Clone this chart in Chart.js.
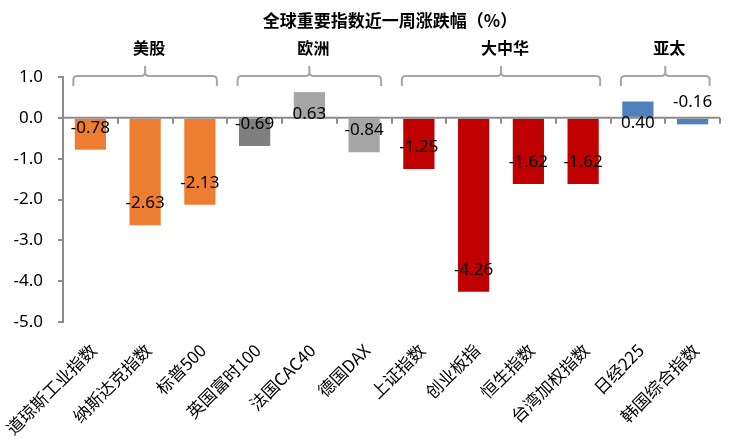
<!DOCTYPE html>
<html><head><meta charset="utf-8">
<script src="https://cdn.jsdelivr.net/npm/chart.js@4/dist/chart.umd.min.js"></script>
<style>html,body{margin:0;padding:0;background:#fff}</style>
</head><body>
<canvas id="c" width="729" height="439"></canvas>
<script>
const categories = ['道琼斯工业指数','纳斯达克指数','标普500','英国富时100','法国CAC40','德国DAX','上证指数','创业板指','恒生指数','台湾加权指数','日经225','韩国综合指数'];
const values = [-0.78,-2.63,-2.13,-0.69,0.63,-0.84,-1.25,-4.26,-1.62,-1.62,0.40,-0.16];
const barColors = ['#ED7D31','#ED7D31','#ED7D31','#7F7F7F','#A5A5A5','#A5A5A5','#C00000','#C00000','#C00000','#C00000','#4F81BD','#4F81BD'];
const groupNames = ['美股','欧洲','大中华','亚太'];
const groupStart = [0,3,6,10];
const groupEnd = [2,5,9,11];
const yMin = -5, yMax = 1, yStep = 1;
const chartTitle = '全球重要指数近一周涨跌幅（%）';

const CJK = "'Noto Sans CJK SC','Noto Sans',sans-serif";
const NUM = "'Noto Sans','Noto Sans CJK SC',sans-serif";
const AXIS = '#8C8C8C';

const decor = {
  id: 'decor',
  afterDraw(chart) {
    const ctx = chart.ctx, x = chart.scales.x, y = chart.scales.y, a = chart.chartArea;
    const y0 = y.getPixelForValue(0);
    ctx.save();
    ctx.strokeStyle = AXIS; ctx.lineWidth = 2;
    ctx.beginPath(); ctx.moveTo(a.left, y0); ctx.lineTo(a.right, y0); ctx.stroke();
    const w = (a.right - a.left) / categories.length;
    for (let i = 1; i <= categories.length; i++) {
      const px = Math.round(a.left + i * w);
      ctx.beginPath(); ctx.moveTo(px, y0); ctx.lineTo(px, y0 + 6); ctx.stroke();
    }
    const meta = chart.getDatasetMeta(0);
    ctx.fillStyle = '#000'; ctx.font = "17px " + NUM;
    ctx.textAlign = 'center'; ctx.textBaseline = 'middle';
    meta.data.forEach((bar, i) => {
      const v = values[i];
      const end = y.getPixelForValue(v);
      const ly = end + (v < 0 ? -22 : 22);
      ctx.fillText(v.toFixed(2), bar.x, ly);
    });
    ctx.strokeStyle = '#A6A6A6'; ctx.lineWidth = 2;
    const topY = 76, endY = 86, peakY = 66, r = 4;
    groupNames.forEach((g, k) => {
      const l = x.getPixelForValue(groupStart[k]) - 17;
      const rr = x.getPixelForValue(groupEnd[k]) + 17;
      const m = (l + rr) / 2;
      ctx.beginPath();
      ctx.moveTo(l, endY);
      ctx.lineTo(l, topY + r);
      ctx.quadraticCurveTo(l, topY, l + r, topY);
      ctx.lineTo(m - r, topY);
      ctx.quadraticCurveTo(m, topY, m, topY - r);
      ctx.lineTo(m, peakY);
      ctx.moveTo(m, topY - r);
      ctx.quadraticCurveTo(m, topY, m + r, topY);
      ctx.lineTo(rr - r, topY);
      ctx.quadraticCurveTo(rr, topY, rr, topY + r);
      ctx.lineTo(rr, endY);
      ctx.stroke();
      ctx.fillStyle = '#000'; ctx.font = "bold 16px " + CJK;
      ctx.fillText(g, m + 4, 48);
    });
    ctx.font = "bold 17px " + CJK;
    ctx.fillText(chartTitle, 390, 21);
    ctx.restore();
  }
};

new Chart(document.getElementById('c'), {
  type: 'bar',
  data: {
    labels: categories,
    datasets: [{ data: values, backgroundColor: barColors, barPercentage: 0.57, categoryPercentage: 1.0 }]
  },
  options: {
    responsive: false,
    animation: false,
    devicePixelRatio: 1,
    layout: { padding: { top: 77, left: 9, right: 9, bottom: 0 } },
    plugins: { legend: { display: false }, tooltip: { enabled: false }, title: { display: false } },
    scales: {
      x: {
        grid: { display: false }, border: { display: false },
        afterFit: s => { s.height = 117; s.paddingLeft = 0; s.paddingRight = 0; },
        ticks: { autoSkip: false, minRotation: 45, maxRotation: 45, labelOffset: 3, padding: 10,
                 color: '#000', font: { family: CJK, size: 17 } }
      },
      y: {
        min: yMin, max: yMax,
        afterFit: s => { s.width = 54; },
        grid: { drawOnChartArea: false, drawTicks: true, tickLength: 5, color: AXIS, lineWidth: 2 },
        border: { color: AXIS, width: 2 },
        ticks: { stepSize: yStep, padding: 15, color: '#000', font: { family: NUM, size: 17 },
                 callback: v => Number(v).toFixed(1) }
      }
    }
  },
  plugins: [decor]
});
</script>
</body></html>
